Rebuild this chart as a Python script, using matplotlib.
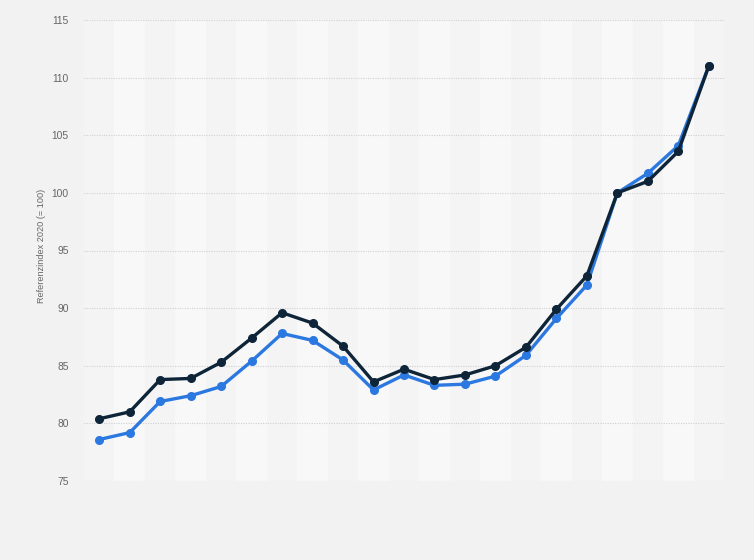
import matplotlib
matplotlib.use("Agg")
import matplotlib.pyplot as plt
import numpy as np

plt.rcParams['font.family'] = ['Liberation Sans', 'DejaVu Sans']

# Data; x categories unlabeled in reference
series_dark = [80.4, 81.0, 83.8, 83.9, 85.3, 87.4, 89.6, 88.7, 86.7, 83.6, 84.7,
               83.8, 84.2, 85.0, 86.6, 89.9, 92.8, 100.0, 101.0, 103.6, 111.0]
series_blue = [78.6, 79.2, 81.9, 82.4, 83.2, 85.4, 87.8, 87.2, 85.5, 82.9, 84.2,
               83.3, 83.4, 84.1, 85.9, 89.1, 92.0, 100.0, 101.7, 104.1, 111.0]
y_ticks = [75, 80, 85, 90, 95, 100, 105, 110, 115]
y_label = "Referenzindex 2020 (= 100)"

fig = plt.figure(figsize=(7.54, 5.6), dpi=100)
fig.patch.set_facecolor("#f2f2f2")
ax = fig.add_axes([84/754, 1-481/560, 640/754, 461/560])
ax.set_facecolor("#f4f4f4")

n = len(series_dark)
x = np.arange(n)
for i in range(n):
    if i % 2 == 1:
        ax.axvspan(i-0.5, i+0.5, color="#f8f8f8", zorder=0, lw=0)

ax.set_xlim(-0.5, n-0.5)
ax.set_ylim(75, 115)
ax.set_yticks(y_ticks)
ax.set_xticks([])
ax.grid(axis="y", color="#d0d0d0", linestyle=(0, (1, 1.2)), linewidth=0.8, zorder=1)
ax.tick_params(axis="y", length=0, pad=11, labelsize=7.4, labelcolor="#666666")
for s in ax.spines.values():
    s.set_visible(False)

ax.plot(x, series_blue, color="#2b78e0", lw=2.4, marker="o", ms=5.5, zorder=3)
ax.plot(x, series_dark, color="#0e2438", lw=2.4, marker="o", ms=5.5, zorder=4)

ax.set_ylabel(y_label, fontsize=6.6, color="#666666")
ax.yaxis.set_label_coords((46-84)/640, (481-246)/461)

fig.savefig("out.png", dpi=100, facecolor=fig.get_facecolor())
